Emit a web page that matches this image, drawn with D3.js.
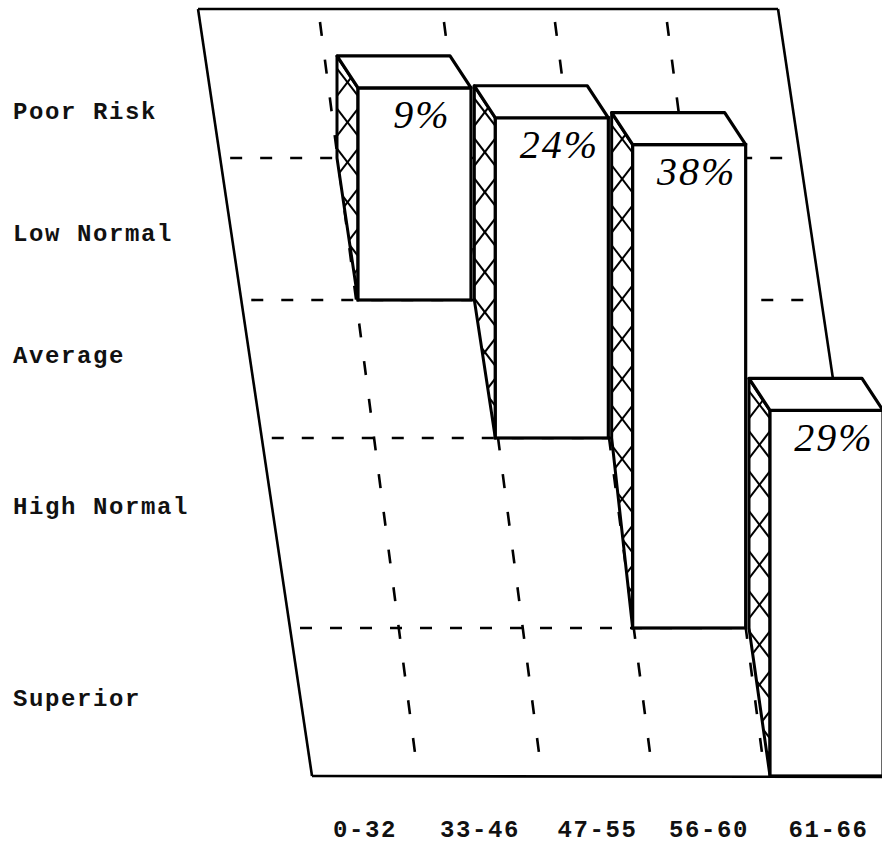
<!DOCTYPE html>
<html>
<head>
<meta charset="utf-8">
<script src="https://cdn.jsdelivr.net/npm/d3@7/dist/d3.min.js"></script>
<style>
  html, body { margin: 0; padding: 0; background: #fff; }
  svg { display: block; }
</style>
</head>
<body>
<svg id="chart" width="882" height="852"></svg>
<script>
// Rating rows on the wall (top to bottom) and score ranges along the floor
const ratingLevels = ["Poor Risk", "Low Normal", "Average", "High Normal", "Superior"];
const scoreRanges = ["0-32", "33-46", "47-55", "56-60", "61-66"];

// Each bar hangs on the wall from one rating level down to another
const barPercents = [9, 24, 38, 29];
const barTopLevel = [0.53, 0.73, 0.91, 2.8];
const barBottomLevel = [2, 3, 4, 5];

const W = 882, H = 852;
const svg = d3.select("#chart");

// Level 0 = top of the wall, level 5 = floor line
const yLevel = d3.scaleLinear().domain([0, 1, 2, 3, 4, 5]).range([9, 158, 300, 438, 628, 776]);
// Score-range boundaries along the floor line
const xFloor = d3.scaleLinear().domain([0, 1, 2, 3, 4, 5]).range([312, 418, 542, 653, 765, 892]);
// Front-left corner of each bar
const xBar = d3.scaleLinear().domain([0, 3]).range([358, 770]);
const barWidth = 113;
// Row label placement
const yLabel = d3.scaleLinear().domain([0, 1, 2, 3, 4]).range([113, 235, 357, 508, 700]);

const floorY = yLevel(5);
const wallLean = 0.1486;   // horizontal shift per pixel of height for the wall sides
const gridLean = 0.13;     // lean of the dashed column lines
const depth = { dx: -21, dy: -32 };  // offset from a bar's front face back to the wall

const wallLeft = y => xFloor(0) - wallLean * (floorY - y);
const wallRight = y => xFloor(5) - wallLean * (floorY - y);

const ink = "#000";

// Wall outline: top, left side, right side and floor line
const wall = svg.append("g").attr("fill", "none").attr("stroke", ink).attr("stroke-width", 2.6);
wall.append("line")
  .attr("x1", wallLeft(yLevel(0))).attr("y1", yLevel(0))
  .attr("x2", wallRight(yLevel(0))).attr("y2", yLevel(0));
wall.append("line")
  .attr("x1", wallLeft(yLevel(0))).attr("y1", yLevel(0))
  .attr("x2", xFloor(0)).attr("y2", floorY);
wall.append("line")
  .attr("x1", wallRight(yLevel(0))).attr("y1", yLevel(0))
  .attr("x2", xFloor(5)).attr("y2", floorY);
wall.append("line")
  .attr("x1", xFloor(0)).attr("y1", floorY)
  .attr("x2", xFloor(5)).attr("y2", floorY + 1);

// Dashed rating boundaries across the wall
const grid = svg.append("g").attr("stroke", ink).attr("stroke-width", 2.6).attr("fill", "none");
grid.selectAll("line.row")
  .data([1, 2, 3, 4])
  .join("line")
  .attr("class", "row")
  .attr("x1", d => wallLeft(yLevel(d)) + 10)
  .attr("y1", d => yLevel(d))
  .attr("x2", d => wallRight(yLevel(d)) - 6)
  .attr("y2", d => yLevel(d))
  .attr("stroke-dasharray", "12,18");

// Dashed score-range boundaries rising from the floor
const colTop = 22, colBottom = floorY - 8;
grid.selectAll("line.col")
  .data([1, 2, 3, 4])
  .join("line")
  .attr("class", "col")
  .attr("x1", d => xFloor(d) - gridLean * (floorY - colTop))
  .attr("y1", colTop)
  .attr("x2", d => xFloor(d) - gridLean * (floorY - colBottom))
  .attr("y2", colBottom)
  .attr("stroke-dasharray", "14,24");

// Bars: front face, top face and cross-hatched left side
const bars = barPercents.map((p, i) => {
  const xl = xBar(i), xr = xBar(i) + barWidth;
  const yt = yLevel(barTopLevel[i]), yb = yLevel(barBottomLevel[i]);
  const bx = xl + depth.dx, byTop = yt + depth.dy;
  const byBend = yLevel(barBottomLevel[i] - 1);
  return { i, p, xl, xr, yt, yb, bx, byTop, byBend };
});

const defs = svg.append("defs");
const barG = svg.append("g");

bars.forEach(b => {
  const g = barG.append("g");
  const side = [[b.bx, b.byTop], [b.xl, b.yt], [b.xl, b.yb], [b.bx, b.byBend]];
  const top = [[b.bx, b.byTop], [b.xr + depth.dx, b.yt + depth.dy], [b.xr, b.yt], [b.xl, b.yt]];

  // side face
  defs.append("clipPath").attr("id", "side" + b.i)
    .append("polygon").attr("points", side.map(d => d.join(",")).join(" "));
  g.append("polygon")
    .attr("points", side.map(d => d.join(",")).join(" "))
    .attr("fill", "#fff");
  const hatch = g.append("g").attr("clip-path", `url(#side${b.i})`)
    .attr("stroke", ink).attr("stroke-width", 2).attr("fill", "none");
  const w = b.xl - b.bx, drop = 1.3 * w, period = 40;
  const starts = d3.range(b.byTop - drop, b.yb + drop, period);
  hatch.selectAll("line.a").data(starts).join("line").attr("class", "a")
    .attr("x1", b.bx).attr("y1", d => d)
    .attr("x2", b.xl).attr("y2", d => d + drop);
  hatch.selectAll("line.b").data(starts).join("line").attr("class", "b")
    .attr("x1", b.bx).attr("y1", d => d + drop)
    .attr("x2", b.xl).attr("y2", d => d);
  g.append("polygon")
    .attr("points", side.map(d => d.join(",")).join(" "))
    .attr("fill", "none").attr("stroke", ink).attr("stroke-width", 3)
    .attr("stroke-linejoin", "round");

  // front face
  g.append("rect")
    .attr("x", b.xl).attr("y", b.yt)
    .attr("width", b.xr - b.xl).attr("height", b.yb - b.yt)
    .attr("fill", "#fff").attr("stroke", ink).attr("stroke-width", 3.2);

  // top face
  g.append("polygon")
    .attr("points", top.map(d => d.join(",")).join(" "))
    .attr("fill", "#fff").attr("stroke", ink).attr("stroke-width", 3.2)
    .attr("stroke-linejoin", "round");

  // percentage written on the front face
  g.append("text")
    .attr("x", b.xl + 64).attr("y", b.yt + 31)
    .attr("text-anchor", "middle").attr("dominant-baseline", "middle")
    .attr("font-family", "'Liberation Serif', 'DejaVu Serif', serif")
    .attr("font-style", "italic").attr("font-size", 40)
    .attr("letter-spacing", 2)
    .attr("fill", ink)
    .text(b.p + "%");
});

// Rating labels down the left
svg.append("g").selectAll("text")
  .data(ratingLevels)
  .join("text")
  .attr("x", 13)
  .attr("y", (d, i) => yLabel(i))
  .attr("dominant-baseline", "middle")
  .attr("font-family", "'Liberation Mono', 'DejaVu Sans Mono', monospace")
  .attr("font-weight", "bold").attr("font-size", 24)
  .attr("letter-spacing", 1.6)
  .attr("fill", "#111")
  .text(d => d);

// Score-range labels under the floor, centred between boundaries
svg.append("g").selectAll("text")
  .data(scoreRanges)
  .join("text")
  .attr("x", (d, i) => (xFloor(i) + xFloor(i + 1)) / 2)
  .attr("y", 831)
  .attr("text-anchor", "middle")
  .attr("dominant-baseline", "middle")
  .attr("font-family", "'Liberation Mono', 'DejaVu Sans Mono', monospace")
  .attr("font-weight", "bold").attr("font-size", 24)
  .attr("letter-spacing", 1.6)
  .attr("fill", "#111")
  .text(d => d);
</script>
</body>
</html>
